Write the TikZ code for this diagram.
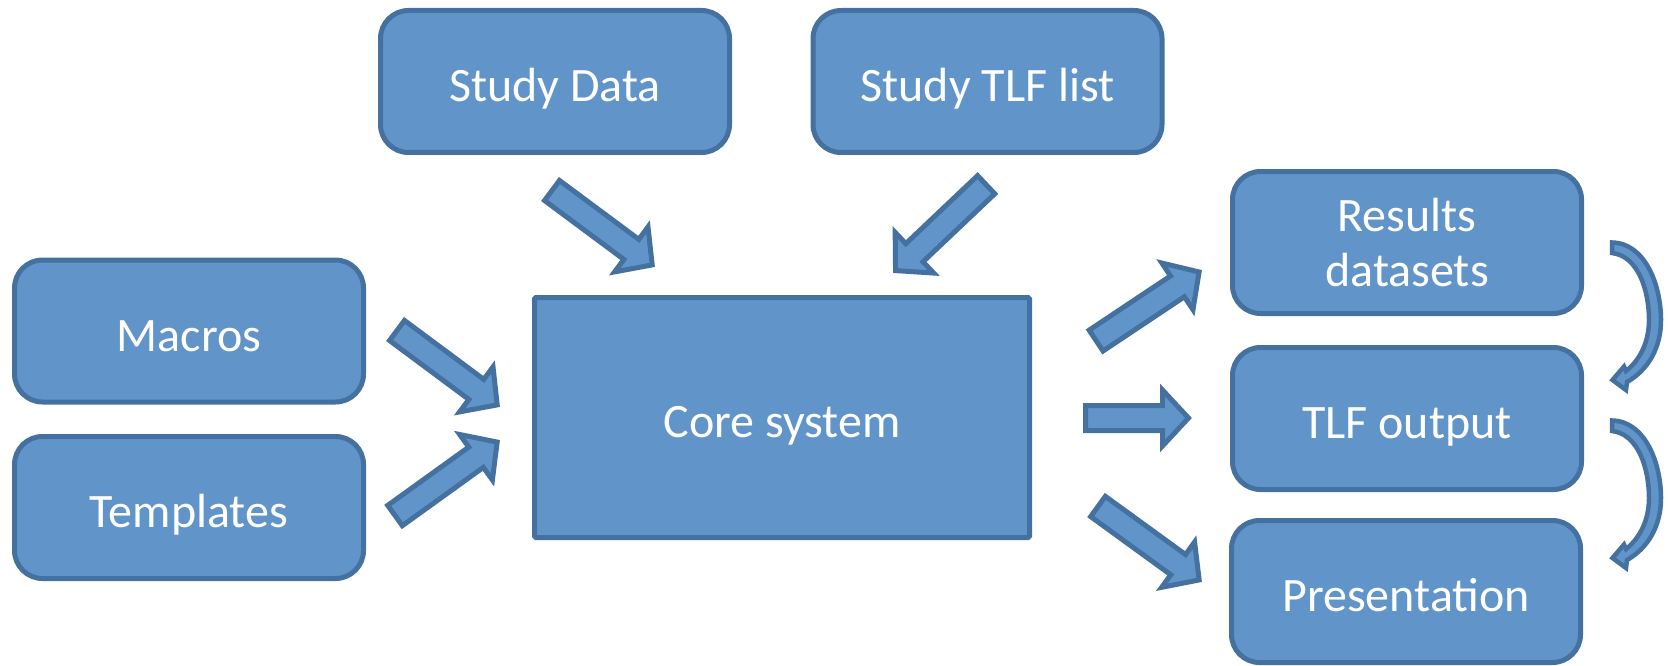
\documentclass[tikz,border=0pt]{standalone}
\usepackage{fontspec}
\setmainfont{Carlito}
\usetikzlibrary{calc}
\definecolor{boxfill}{HTML}{6195C9}
\definecolor{boxline}{HTML}{44719F}
\tikzset{
  box/.style={draw=boxline, fill=boxfill, line width=5pt, rounded corners=28pt,
    minimum width=349pt, minimum height=142pt, inner sep=0pt, text=white,
    font=\fontsize{48}{55}\selectfont, align=center},
  oneline/.style={text height=42pt, text depth=2pt},
  corebox/.style={draw=boxline, fill=boxfill, line width=5pt, rounded corners=1.5pt,
    minimum width=495pt, minimum height=240pt, inner sep=0pt, text=white,
    font=\fontsize{48}{55}\selectfont},
  barrowstyle/.style={draw=boxline, fill=boxfill, line width=5pt, line join=miter},
  curvestyle/.style={draw=boxline, fill=boxfill, line width=4.5pt, line join=miter},
}
% block arrow: #1 tail coordinate, #2 tip coordinate, #3 name prefix
\newcommand\blockarr[3]{%
  \coordinate (#3t) at ($(#1)!2.5pt!(#2)$);
  \coordinate (#3p) at ($(#2)!3.5pt!(#1)$);
  \coordinate (#3h) at ($(#3p)!26pt!(#3t)$);
  \draw[barrowstyle] ($(#3t)!12.5pt!90:(#3p)$) -- ($(#3h)!12.5pt!90:(#3p)$)
    -- ($(#3h)!28pt!90:(#3p)$) -- (#3p) -- ($(#3h)!28pt!-90:(#3p)$)
    -- ($(#3h)!12.5pt!-90:(#3p)$) -- ($(#3t)!12.5pt!-90:(#3p)$) -- cycle;
}
\begin{document}
\begin{tikzpicture}[x=1pt, y=-1pt]
\useasboundingbox (0,0) rectangle (1668,666);

\node[box, oneline] (sdata) at (555,81.5) {Study Data};
\node[box, oneline] (stlf) at (987.5,81.5) {Study TLF list};
\node[box, oneline] (macros) at (189,331) {Macros};
\node[box, oneline] (templ) at (189,507.5) {Templates};
\node[corebox, text height=42pt, text depth=2pt] (core) at (782,417.5) {Core system};
\node[box] (results) at (1407,242.5) {Results\\datasets};
\node[box, oneline] (tlfout) at (1407,418.5) {TLF output};
\node[box, oneline] (pres) at (1406,591.5) {Presentation};

% block arrow end points
\coordinate (a1s) at (550,189);  \coordinate (a1e) at (655,267);
\coordinate (a2s) at (988,183);  \coordinate (a2e) at (893,273);
\coordinate (a3s) at (395,329);  \coordinate (a3e) at (500,407);
\coordinate (a4s) at (393,517);  \coordinate (a4e) at (500,440);
\coordinate (a5s) at (1094,342); \coordinate (a5e) at (1202,270);
\coordinate (a6s) at (1083,418); \coordinate (a6e) at (1192,418);
\coordinate (a7s) at (1096,505); \coordinate (a7e) at (1202,582);

\blockarr{a1s}{a1e}{ba}
\blockarr{a2s}{a2e}{bb}
\blockarr{a3s}{a3e}{bc}
\blockarr{a4s}{a4e}{bd}
\blockarr{a5s}{a5e}{be}
\blockarr{a6s}{a6e}{bf}
\blockarr{a7s}{a7e}{bg}

% curved arrows
\foreach \dy in {0,178}{
  \begin{scope}[yshift=-\dy pt]
  \draw[curvestyle] (1612,242.5) .. controls (1645,243) and (1661,285) .. (1661,320)
    .. controls (1661,348) and (1648,370) .. (1627,382)
    -- (1626,390) -- (1612.5,380) -- (1624,366.5) -- (1626,371)
    .. controls (1640,360) and (1649,342) .. (1649,320)
    .. controls (1649,290) and (1638,256) .. (1612,253) -- cycle;
  \end{scope}
}
\end{tikzpicture}
\end{document}
